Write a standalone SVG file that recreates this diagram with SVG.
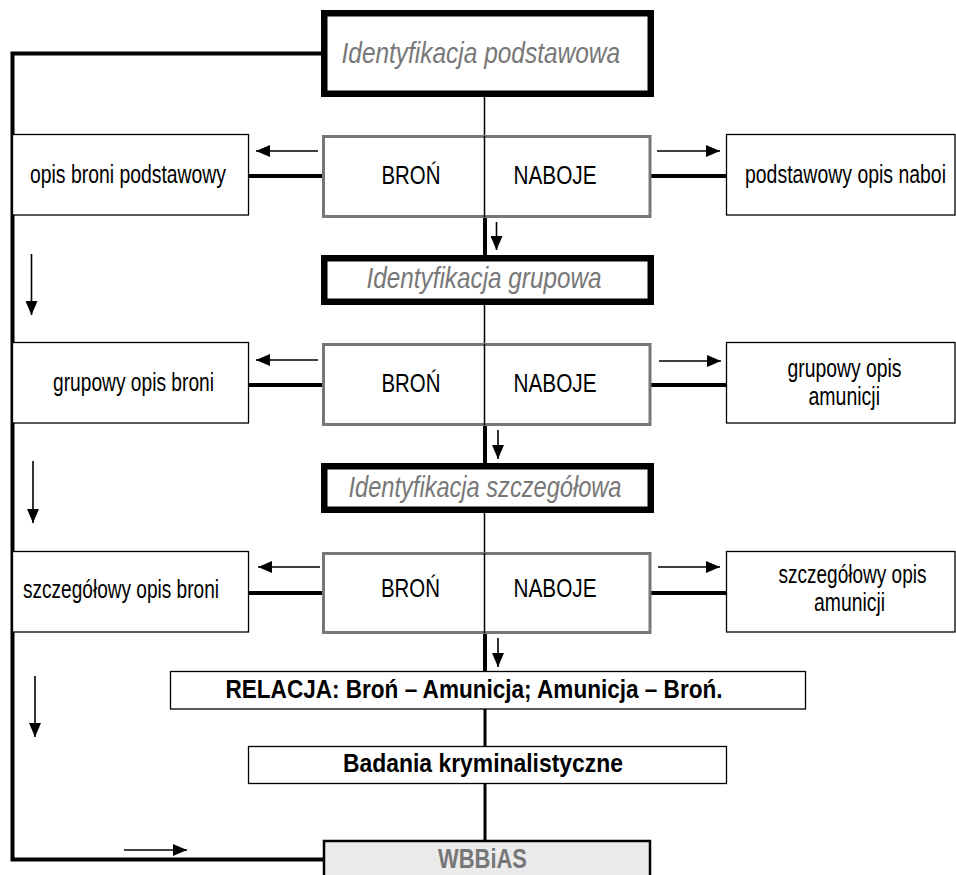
<svg xmlns="http://www.w3.org/2000/svg" width="956" height="875" viewBox="0 0 956 875">
<style>
text{font-family:"Liberation Sans Narrow","Arial Narrow","Liberation Sans",Arial,sans-serif;fill:#000}
.t{font-size:26px}
.h{font-size:29px;font-style:italic;fill:#777}
.b{font-size:25px;font-weight:bold}
.w{font-size:28px;font-weight:bold;fill:#777}
.hb{fill:#fff;stroke:#000;stroke-width:6.5}
.gb{fill:#fff;stroke:#777;stroke-width:3}
.sb{fill:#fff;stroke:#000;stroke-width:1.3}
.thin{stroke:#000;stroke-width:1.5;fill:none}
.thick{stroke:#000;stroke-width:4;fill:none}
.arr{stroke:#000;stroke-width:1.6;fill:none;marker-end:url(#ah)}
</style>
<defs>
<marker id="ah" markerUnits="userSpaceOnUse" markerWidth="14" markerHeight="12" refX="14" refY="6" orient="auto">
<path d="M0,0 L14,6 L0,12 z" fill="#000"/>
</marker>
</defs>
<rect width="956" height="875" fill="#fff"/>
<g id="connectors">
<path class="thick" d="M323,53.5 H12.5 V859.5 H325"/>
<line class="thin" x1="484.5" y1="97" x2="484.5" y2="218"/>
<line class="thin" x1="484.5" y1="305" x2="484.5" y2="426"/>
<line class="thin" x1="484.5" y1="513" x2="484.5" y2="634"/>
<line class="thick" x1="485" y1="217" x2="485" y2="256"/>
<line class="thick" x1="485" y1="425" x2="485" y2="464"/>
<line class="thick" x1="485" y1="633" x2="485" y2="672"/>
<line stroke="#000" stroke-width="3" x1="485" y1="709" x2="485" y2="746"/>
<line stroke="#000" stroke-width="3" x1="485" y1="783" x2="485" y2="841"/>
<line class="thick" x1="248" y1="176" x2="323" y2="176"/>
<line class="thick" x1="651" y1="176" x2="727" y2="176"/>
<line class="thick" x1="248" y1="385" x2="323" y2="385"/>
<line class="thick" x1="651" y1="385" x2="727" y2="385"/>
<line class="thick" x1="248" y1="593" x2="323" y2="593"/>
<line class="thick" x1="651" y1="593" x2="727" y2="593"/>
<line class="arr" x1="318" y1="151" x2="256" y2="151"/>
<line class="arr" x1="657" y1="151" x2="720" y2="151"/>
<line class="arr" x1="318" y1="360" x2="256" y2="360"/>
<line class="arr" x1="659" y1="361" x2="721" y2="361"/>
<line class="arr" x1="320" y1="567" x2="258" y2="567"/>
<line class="arr" x1="658" y1="567" x2="720" y2="567"/>
<line class="arr" x1="496.5" y1="222" x2="496.5" y2="250"/>
<line class="arr" x1="498" y1="430" x2="498" y2="459"/>
<line class="arr" x1="498" y1="638" x2="498" y2="667"/>
<line class="arr" x1="31.5" y1="254" x2="31.5" y2="315"/>
<line class="arr" x1="33" y1="461" x2="33" y2="523"/>
<line class="arr" x1="35" y1="676" x2="35" y2="737"/>
<line class="arr" x1="124" y1="850" x2="187" y2="850"/>
</g>
<g id="ident-podstawowa">
<rect class="hb" x="324.25" y="13.25" width="326.5" height="80.5"/>
<text class="h" x="341.5" y="62.5" textLength="278.5" lengthAdjust="spacingAndGlyphs">Identyfikacja podstawowa</text>
</g>
<g id="opis-broni-podstawowy">
<rect class="sb" x="12.5" y="134.5" width="236" height="80.5"/>
<text class="t" x="30" y="183" textLength="196" lengthAdjust="spacingAndGlyphs">opis broni podstawowy</text>
</g>
<g id="bron-naboje-1">
<rect class="gb" x="323.5" y="136.5" width="326.5" height="80"/>
<line class="thin" x1="484.5" y1="136" x2="484.5" y2="217"/>
<text class="t" x="381.5" y="184" textLength="59" lengthAdjust="spacingAndGlyphs">BROŃ</text>
<text class="t" x="513.5" y="184" textLength="83" lengthAdjust="spacingAndGlyphs">NABOJE</text>
</g>
<g id="podstawowy-opis-naboi">
<rect class="sb" x="726.5" y="134.5" width="228.5" height="80.5"/>
<text class="t" transform="translate(745,183) scale(0.78,1)" x="0" y="0" textLength="257.7" lengthAdjust="spacingAndGlyphs">podstawowy opis naboi</text>
</g>
<g id="ident-grupowa">
<rect class="hb" x="324.25" y="258.25" width="326.5" height="43.5"/>
<text class="h" x="366.5" y="288" textLength="235" lengthAdjust="spacingAndGlyphs">Identyfikacja grupowa</text>
</g>
<g id="grupowy-opis-broni">
<rect class="sb" x="12.5" y="342.5" width="236" height="80.5"/>
<text class="t" x="53" y="390.5" textLength="161" lengthAdjust="spacingAndGlyphs">grupowy opis broni</text>
</g>
<g id="bron-naboje-2">
<rect class="gb" x="323.5" y="344.5" width="326.5" height="80"/>
<line class="thin" x1="484.5" y1="344" x2="484.5" y2="425"/>
<text class="t" x="381.5" y="392" textLength="59" lengthAdjust="spacingAndGlyphs">BROŃ</text>
<text class="t" x="513.5" y="392" textLength="83" lengthAdjust="spacingAndGlyphs">NABOJE</text>
</g>
<g id="grupowy-opis-amunicji">
<rect class="sb" x="726.5" y="342.5" width="228.5" height="80.5"/>
<text class="t" x="787.5" y="377" textLength="114" lengthAdjust="spacingAndGlyphs">grupowy opis</text>
<text class="t" x="808.5" y="404.5" textLength="71.5" lengthAdjust="spacingAndGlyphs">amunicji</text>
</g>
<g id="ident-szczegolowa">
<rect class="hb" x="324.25" y="466.25" width="326.5" height="43.5"/>
<text class="h" x="348.5" y="497" textLength="273" lengthAdjust="spacingAndGlyphs">Identyfikacja szczegółowa</text>
</g>
<g id="szczegolowy-opis-broni">
<rect class="sb" x="12.5" y="551.5" width="236" height="80.5"/>
<text class="t" x="23" y="598" textLength="196" lengthAdjust="spacingAndGlyphs">szczegółowy opis broni</text>
</g>
<g id="bron-naboje-3">
<rect class="gb" x="323.5" y="553.5" width="326.5" height="79"/>
<line class="thin" x1="484.5" y1="553" x2="484.5" y2="633"/>
<text class="t" x="381" y="597" textLength="59" lengthAdjust="spacingAndGlyphs">BROŃ</text>
<text class="t" x="513.5" y="597" textLength="83" lengthAdjust="spacingAndGlyphs">NABOJE</text>
</g>
<g id="szczegolowy-opis-amunicji">
<rect class="sb" x="726.5" y="551.5" width="228.5" height="80.5"/>
<text class="t" transform="translate(778.5,583) scale(0.78,1)" x="0" y="0" textLength="189.7" lengthAdjust="spacingAndGlyphs">szczegółowy opis</text>
<text class="t" x="814" y="611" textLength="71" lengthAdjust="spacingAndGlyphs">amunicji</text>
</g>
<g id="relacja">
<rect class="sb" x="170.5" y="671.5" width="635" height="37.5" stroke-width="1.5"/>
<text class="b" x="225.5" y="698" textLength="497" lengthAdjust="spacingAndGlyphs">RELACJA: Broń – Amunicja; Amunicja – Broń.</text>
</g>
<g id="badania">
<rect class="sb" x="248.5" y="746.5" width="478" height="37" stroke-width="1.5"/>
<text class="b" x="343" y="772" textLength="280" lengthAdjust="spacingAndGlyphs">Badania kryminalistyczne</text>
</g>
<g id="wbbias">
<rect x="324" y="841" width="326" height="45" fill="#ebebeb" stroke="#000" stroke-width="2.5"/>
<text class="w" x="438" y="867.5" textLength="89" lengthAdjust="spacingAndGlyphs">WBBiAS</text>
</g>
</svg>
